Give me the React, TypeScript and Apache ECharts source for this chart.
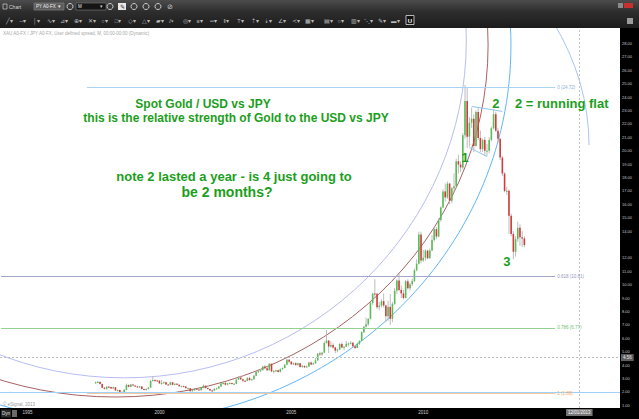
import React, { useEffect, useRef } from 'react';
import * as echarts from 'echarts';

// ---------- axis setup ----------
const AXIS_FIRST_YEAR = 1994;
const AXIS_MONTH_COUNT = 282; // 1994-01 .. 2017-06
const PRICE_TICKS = [1, 2, 3, 4, 5, 6, 7, 8, 9, 10, 11, 12, 14, 15, 16, 17, 18, 19, 20, 21, 22, 23, 24, 25, 26, 27, 28];
const YEAR_LABELS = ['1995', '2000', '2005', '2010'];
const PRICE_MIN = 0.8;
const PRICE_MAX = 29.15;

// ---------- monthly candles: [open, close, low, high] ----------
const FIRST_CANDLE_MONTH = '1997-08';
const OHLC: number[][] = [
  // 1997 Aug-Dec
  [2.65, 2.72, 2.6, 2.78], [2.72, 2.74, 2.66, 2.83], [2.74, 2.59, 2.55, 2.8], [2.59, 2.31, 2.28, 2.62], [2.31, 2.23, 2.18, 2.36],
  // 1998
  [2.23, 2.39, 2.16, 2.44], [2.39, 2.36, 2.3, 2.45], [2.36, 2.26, 2.22, 2.4], [2.26, 2.35, 2.22, 2.4], [2.35, 2.11, 2.09, 2.37], [2.11, 2.14, 2.03, 2.18],
  [2.14, 2.0, 1.98, 2.17], [2.0, 1.94, 1.9, 2.05], [1.94, 2.16, 1.92, 2.22], [2.16, 2.52, 2.12, 2.62], [2.52, 2.39, 2.34, 2.56], [2.39, 2.55, 2.35, 2.6],
  // 1999
  [2.55, 2.47, 2.42, 2.6], [2.47, 2.41, 2.36, 2.52], [2.41, 2.35, 2.32, 2.46], [2.35, 2.4, 2.31, 2.45], [2.4, 2.21, 2.18, 2.42], [2.21, 2.16, 2.12, 2.25],
  [2.16, 2.22, 2.1, 2.27], [2.22, 2.32, 2.19, 2.36], [2.32, 2.82, 2.3, 2.9], [2.82, 2.88, 2.78, 3.18], [2.88, 2.86, 2.76, 2.94], [2.86, 2.84, 2.78, 2.9],
  // 2000
  [2.84, 2.64, 2.6, 2.88], [2.64, 2.66, 2.55, 2.9], [2.66, 2.73, 2.62, 2.78], [2.73, 2.55, 2.52, 2.76], [2.55, 2.52, 2.47, 2.58], [2.52, 2.72, 2.5, 2.76],
  [2.72, 2.53, 2.5, 2.74], [2.53, 2.61, 2.49, 2.64], [2.61, 2.53, 2.5, 2.66], [2.53, 2.42, 2.4, 2.56], [2.42, 2.43, 2.38, 2.47], [2.43, 2.4, 2.36, 2.47],
  // 2001
  [2.4, 2.28, 2.25, 2.44], [2.28, 2.28, 2.22, 2.33], [2.28, 2.05, 2.03, 2.3], [2.05, 2.12, 2.02, 2.16], [2.12, 2.24, 2.09, 2.3], [2.24, 2.18, 2.14, 2.27],
  [2.18, 2.13, 2.1, 2.21], [2.13, 2.29, 2.11, 2.32], [2.29, 2.46, 2.27, 2.56], [2.46, 2.29, 2.26, 2.48], [2.29, 2.22, 2.19, 2.33], [2.22, 2.11, 2.08, 2.24],
  // 2002
  [2.11, 2.1, 2.06, 2.16], [2.1, 2.23, 2.08, 2.29], [2.23, 2.26, 2.19, 2.32], [2.26, 2.41, 2.23, 2.44], [2.41, 2.63, 2.39, 2.66], [2.63, 2.67, 2.55, 2.78],
  [2.67, 2.54, 2.48, 2.72], [2.54, 2.64, 2.5, 2.67], [2.64, 2.66, 2.6, 2.73], [2.66, 2.59, 2.55, 2.7], [2.59, 2.6, 2.54, 2.64], [2.6, 2.92, 2.58, 2.95],
  // 2003
  [2.92, 3.07, 2.88, 3.18], [3.07, 2.94, 2.9, 3.2], [2.94, 2.83, 2.73, 2.98], [2.83, 2.82, 2.75, 2.88], [2.82, 3.03, 2.8, 3.1], [3.03, 2.88, 2.85, 3.14],
  [2.88, 2.95, 2.84, 3.0], [2.95, 3.21, 2.92, 3.26], [3.21, 3.5, 3.18, 3.56], [3.5, 3.54, 3.42, 3.66], [3.54, 3.62, 3.48, 3.67], [3.62, 3.9, 3.6, 3.93],
  // 2004
  [3.9, 3.76, 3.68, 4.02], [3.76, 3.62, 3.56, 3.9], [3.62, 4.1, 3.6, 4.15], [4.1, 3.53, 3.48, 4.12], [3.53, 3.57, 3.38, 3.62], [3.57, 3.62, 3.48, 3.66],
  [3.62, 3.49, 3.45, 3.66], [3.49, 3.7, 3.46, 3.76], [3.7, 3.78, 3.64, 3.83], [3.78, 4.02, 3.76, 4.08], [4.02, 4.4, 4.0, 4.46], [4.4, 4.25, 4.14, 4.45],
  // 2005
  [4.25, 4.06, 4.02, 4.3], [4.06, 4.14, 4.01, 4.2], [4.14, 4.0, 3.96, 4.22], [4.0, 4.14, 3.96, 4.18], [4.14, 3.86, 3.82, 4.16], [3.86, 3.94, 3.8, 4.0],
  [3.94, 3.84, 3.78, 3.97], [3.84, 3.9, 3.8, 3.97], [3.9, 4.19, 3.88, 4.24], [4.19, 4.05, 4.0, 4.26], [4.05, 4.13, 4.02, 4.2], [4.13, 4.35, 4.1, 4.52],
  // 2006
  [4.35, 4.86, 4.32, 4.9], [4.86, 4.79, 4.68, 5.0], [4.79, 4.93, 4.7, 4.98], [4.93, 5.65, 4.9, 5.78], [5.65, 5.83, 5.6, 6.62], [5.83, 5.38, 4.9, 5.86],
  [5.38, 5.5, 5.3, 5.78], [5.5, 5.32, 5.22, 5.62], [5.32, 5.08, 4.9, 5.36], [5.08, 5.16, 4.95, 5.22], [5.16, 5.57, 5.12, 5.64], [5.57, 5.31, 5.26, 5.7],
  // 2007
  [5.31, 5.37, 5.1, 5.42], [5.37, 5.59, 5.34, 5.8], [5.59, 5.61, 5.4, 5.7], [5.61, 5.66, 5.55, 5.8], [5.66, 5.4, 5.34, 5.72], [5.4, 5.28, 5.2, 5.46],
  [5.28, 5.59, 5.26, 5.68], [5.59, 5.8, 5.5, 5.86], [5.8, 6.46, 5.78, 6.52], [6.46, 6.86, 6.4, 6.92], [6.86, 7.05, 6.8, 7.55], [7.05, 7.45, 6.92, 7.5],
  // 2008
  [7.45, 8.63, 7.4, 8.72], [8.63, 9.34, 8.5, 9.4], [9.34, 9.33, 9.1, 10.4], [9.33, 8.32, 8.2, 9.4], [8.32, 8.44, 8.1, 8.7], [8.44, 8.77, 8.3, 8.9],
  [8.77, 8.45, 8.3, 9.35], [8.45, 7.64, 7.2, 8.5], [7.64, 8.34, 7.3, 8.8], [8.34, 7.45, 7.0, 9.3], [7.45, 8.57, 7.2, 8.7], [8.57, 9.55, 8.5, 9.75],
  // 2009
  [9.55, 10.31, 9.3, 10.4], [10.31, 9.61, 9.5, 10.8], [9.61, 9.35, 9.0, 9.95], [9.35, 9.01, 8.9, 9.6], [9.01, 10.26, 8.98, 10.35], [10.26, 9.73, 9.65, 10.4],
  [9.73, 10.04, 9.55, 10.15], [10.04, 10.27, 9.9, 10.45], [10.27, 11.07, 10.2, 11.2], [11.07, 11.56, 11.0, 11.9], [11.56, 13.74, 11.5, 13.95], [13.74, 11.8, 11.6, 13.95],
  // 2010
  [11.8, 12.01, 11.7, 12.6], [12.01, 12.54, 11.8, 12.65], [12.54, 11.97, 11.9, 12.6], [11.97, 12.55, 11.95, 12.7], [12.55, 13.33, 12.5, 13.7], [13.33, 14.14, 13.2, 14.3],
  [14.14, 13.59, 13.4, 14.3], [13.59, 14.83, 13.55, 14.95], [14.83, 15.75, 14.7, 15.85], [15.75, 16.96, 15.7, 17.1], [16.96, 16.51, 16.2, 17.55], [16.51, 17.54, 16.4, 17.7],
  // 2011
  [17.54, 16.26, 16.0, 17.6], [16.26, 17.2, 16.1, 17.3], [17.2, 17.34, 16.9, 18.3], [17.34, 19.21, 17.3, 19.4], [19.21, 18.96, 18.3, 19.7], [18.96, 18.75, 18.4, 19.2],
  [18.75, 21.14, 18.6, 21.3], [21.14, 23.71, 20.9, 24.9], [23.71, 21.04, 20.2, 24.72], [21.04, 22.08, 20.3, 22.5], [22.08, 22.38, 21.7, 23.2], [22.38, 20.34, 19.9, 22.7],
  // 2012
  [20.34, 22.89, 20.3, 23.0], [22.89, 20.95, 20.8, 23.2], [20.95, 20.11, 19.9, 21.5], [20.11, 20.8, 19.9, 20.9], [20.8, 19.99, 19.6, 21.0], [19.99, 19.99, 19.6, 20.5],
  [19.99, 20.79, 19.8, 21.0], [20.79, 21.67, 20.7, 21.8], [21.67, 22.72, 21.6, 23.1], [22.72, 21.49, 21.4, 22.9], [21.49, 20.88, 20.6, 21.7], [20.88, 19.48, 19.3, 20.9],
  // 2013 Jan-Nov
  [19.48, 18.29, 18.1, 19.6], [18.29, 16.99, 16.9, 18.4], [16.99, 17.0, 16.7, 17.3], [17.0, 15.14, 13.8, 17.1], [15.14, 13.79, 13.6, 15.3], [13.79, 12.46, 11.9, 14.0],
  [12.46, 13.4, 12.1, 13.6], [13.4, 14.24, 13.2, 14.7], [14.24, 13.54, 12.9, 14.5], [13.54, 13.45, 12.8, 14.0], [13.45, 12.96, 12.8, 13.6],
];

// ---------- Fibonacci retracement levels ----------
const FIB_RATIOS = ['0', '0.618', '0.786', '1'];
const FIB_VALUES = [24.72, 10.61, 6.77, 1.88];
const FIB_STARTS = ['1997-04', '1994-01', '1994-01', '1997-04'];
const FIB_END = '2015-01';
const FIB_COLORS = ['#a9d3f3', '#a3a6c9', '#93d293', '#f7c9a0'];
const FIB_LABEL_COLORS = ['#86aedb', '#9496bd', '#72c272', '#f2a462'];
const BASE_LINE_VALUE = 1.95;

// ---------- crosshair / price markers ----------
const CROSSHAIR_VALUE = 4.56;
const CROSSHAIR_MONTH = '2015-12';
const CROSSHAIR_DATE_LABEL = '12/01/2013';
const LAST_PRICE = 12.96;

// ---------- wedge (running flat) ----------
const WEDGE_UPPER = [['2011-11', 23.3], ['2013-01', 22.93]];
const WEDGE_LOWER = [['2011-10', 20.23], ['2012-06', 19.56]];

// ---------- arcs (ellipses: centre month/value, radii in months / price units) ----------
const ARC_CENTER_MONTHS = ['1998-09', '1998-05', '1998-06'];
const ARC_CENTER_VALUES = [28.25, 27.87, 27.87];
const ARC_RADII_MONTHS = [155.6, 169.5, 178.9];
const ARC_RADII_VALUES = [25.2, 26.25, 28.12];
const ARC_COLORS = ['#b7bdf2', '#a86262', '#62b6f6'];
// upper-right quarter arc near the right edge
const UPPER_ARC_CENTER_MONTH = '1998-06';
const UPPER_ARC_CENTER_VALUE = 20.42;
const UPPER_ARC_RADIUS_MONTHS = 214.4;
const UPPER_ARC_RADIUS_VALUE = 24.0;

// ---------- wave labels ----------
const WAVE_LABELS = ['1', '2', '3'];
const WAVE_MONTHS = ['2011-08', '2012-10', '2013-03'];
const WAVE_VALUES = [19.52, 23.55, 11.76];

const GREEN = '#1c9e1c';
const FONT = '"Liberation Sans", Arial, sans-serif';

const TOOL_GLYPHS = ['╱', '─', '│', '∿', '⊿', '⊕', '✕', '○', '□', '◇', '△', '▰', '⫽', '◎', '≡', '═', '‖', 'T', '⇡', '⇣', '∠', '≺', '▦'];
const TOOL_GLYPHS_RIGHT = ['▤', '○', '▥', '⋱', '✎', '▬'];

function buildMonths(): string[] {
  const out: string[] = [];
  for (let i = 0; i < AXIS_MONTH_COUNT; i++) {
    const y = AXIS_FIRST_YEAR + Math.floor(i / 12);
    const m = (i % 12) + 1;
    out.push(`${y}-${m < 10 ? '0' + m : m}`);
  }
  return out;
}

export default function App() {
  const ref = useRef<HTMLDivElement>(null);

  useEffect(() => {
    if (!ref.current) return;
    const chart = echarts.init(ref.current, null, { renderer: 'svg' });
    const months = buildMonths();
    const firstIdx = months.indexOf(FIRST_CANDLE_MONTH);
    const candleData = OHLC.map((r, i) => [firstIdx + i, r[0], r[1], r[2], r[3]]);

    const renderCandle = (params: any, api: any) => {
      const x = api.value(0);
      const o = api.value(1);
      const c = api.value(2);
      const l = api.value(3);
      const h = api.value(4);
      const pHigh = api.coord([x, h]);
      const pLow = api.coord([x, l]);
      const pOpen = api.coord([x, o]);
      const pClose = api.coord([x, c]);
      const band = api.size([1, 0])[0];
      const bw = Math.max(1, band * 0.72);
      const top = Math.min(pOpen[1], pClose[1]);
      const height = Math.max(1, Math.abs(pOpen[1] - pClose[1]));
      const up = c >= o;
      return {
        type: 'group',
        children: [
          { type: 'line', shape: { x1: pHigh[0], y1: pHigh[1], x2: pLow[0], y2: pLow[1] }, style: { stroke: '#b4b4b4', lineWidth: 0.9 } },
          { type: 'rect', shape: { x: pOpen[0] - bw / 2, y: top, width: bw, height }, style: { fill: up ? '#58bd58' : '#d33b3b' } },
        ],
      };
    };

    const renderArcs = (params: any, api: any) => {
      const band = api.size([1, 0])[0];
      const children: any[] = ARC_RADII_MONTHS.map((r, i) => {
        const idx = months.indexOf(ARC_CENTER_MONTHS[i]);
        const c = api.coord([idx, ARC_CENTER_VALUES[i]]);
        const bottom = api.coord([idx, ARC_CENTER_VALUES[i] - ARC_RADII_VALUES[i]]);
        return {
          type: 'ellipse',
          shape: { cx: c[0], cy: c[1], rx: r * band, ry: Math.abs(bottom[1] - c[1]) },
          style: { fill: 'none', stroke: ARC_COLORS[i], lineWidth: 1 },
        };
      });
      const uIdx = months.indexOf(UPPER_ARC_CENTER_MONTH);
      const uc = api.coord([uIdx, UPPER_ARC_CENTER_VALUE]);
      const utop = api.coord([uIdx, UPPER_ARC_CENTER_VALUE + UPPER_ARC_RADIUS_VALUE]);
      const rx = UPPER_ARC_RADIUS_MONTHS * band;
      const ry = Math.abs(uc[1] - utop[1]);
      children.push({
        type: 'path',
        shape: { pathData: `M ${uc[0] + rx} ${uc[1]} A ${rx} ${ry} 0 0 0 ${uc[0]} ${uc[1] - ry}` },
        style: { fill: 'none', stroke: '#a8c6f2', lineWidth: 1 },
      });
      return { type: 'group', children };
    };

    const smallBox = (bg: string, color = '#ffffff') => ({
      backgroundColor: bg,
      color,
      fontSize: 4.5,
      fontFamily: FONT,
      padding: [1, 2, 1, 2],
    });

    const markLines: any[] = [];
    FIB_VALUES.forEach((v, i) => {
      markLines.push([
        {
          coord: [FIB_STARTS[i], v],
          lineStyle: { color: FIB_COLORS[i], width: 1, type: 'solid' },
          label: {
            show: true,
            position: 'end',
            distance: 2,
            formatter: `${FIB_RATIOS[i]} (${v.toFixed(2)})`,
            color: FIB_LABEL_COLORS[i],
            fontSize: 4.5,
            fontFamily: FONT,
          },
        },
        { coord: [FIB_END, v] },
      ]);
    });
    markLines.push({ yAxis: BASE_LINE_VALUE, lineStyle: { color: '#9fd0f5', width: 1, type: 'solid' }, label: { show: false } });
    [WEDGE_UPPER, WEDGE_LOWER].forEach((seg) => {
      markLines.push([
        { coord: seg[0], lineStyle: { color: '#8fc4f0', width: 1, type: 'solid' }, label: { show: false } },
        { coord: seg[1] },
      ]);
    });
    markLines.push({
      yAxis: CROSSHAIR_VALUE,
      lineStyle: { color: '#bdbdbd', width: 1, type: [2, 2] },
      label: { show: true, position: 'end', distance: 1, formatter: CROSSHAIR_VALUE.toFixed(2), ...smallBox('#5e5e5e', '#e8e8e8') },
    });
    markLines.push({
      xAxis: CROSSHAIR_MONTH,
      lineStyle: { color: '#c4c4c4', width: 1, type: [2, 2] },
      label: { show: true, position: 'start', distance: 1, formatter: CROSSHAIR_DATE_LABEL, ...smallBox('#777777', '#ffffff') },
    });
    markLines.push({
      yAxis: LAST_PRICE,
      lineStyle: { opacity: 0 },
      label: { show: true, position: 'end', distance: 1, formatter: LAST_PRICE.toFixed(2), ...smallBox('#ee1111', '#ffffff') },
    });

    const toolbarGraphics: any[] = [
      {
        type: 'rect', shape: { x: 0, y: 0, width: 639, height: 13 },
        style: { fill: new echarts.graphic.LinearGradient(0, 0, 0, 1, [{ offset: 0, color: '#4c4c4c' }, { offset: 1, color: '#2a2a2a' }]) },
      },
      {
        type: 'rect', shape: { x: 0, y: 13, width: 639, height: 15 },
        style: { fill: new echarts.graphic.LinearGradient(0, 0, 0, 1, [{ offset: 0, color: '#2c2c2c' }, { offset: 1, color: '#1c1c1c' }]) },
      },
      { type: 'rect', shape: { x: 3, y: 4, width: 4, height: 5 }, style: { fill: 'none', stroke: '#bbbbbb', lineWidth: 0.8 } },
      { type: 'text', x: 9, y: 6.5, style: { text: 'Chart', fill: '#d8d8d8', font: `5px ${FONT}`, textVerticalAlign: 'middle' } },
      { type: 'rect', shape: { x: 34, y: 3, width: 30, height: 7 }, style: { fill: '#5c5c5c', stroke: '#8a8a8a', lineWidth: 0.6 } },
      { type: 'text', x: 36, y: 6.5, style: { text: 'PY A0-FX  ▾', fill: '#f0f0f0', font: `4.5px ${FONT}`, textVerticalAlign: 'middle' } },
      { type: 'circle', shape: { cx: 70, cy: 6.5, r: 3 }, style: { fill: 'none', stroke: '#cccccc', lineWidth: 1 } },
      { type: 'rect', shape: { x: 76, y: 3, width: 30, height: 7 }, style: { fill: '#151515', stroke: '#7a7a7a', lineWidth: 0.6 } },
      { type: 'text', x: 78, y: 6.5, style: { text: 'M', fill: '#f0f0f0', font: `4.5px ${FONT}`, textVerticalAlign: 'middle' } },
      { type: 'text', x: 100, y: 6.5, style: { text: '▾', fill: '#cccccc', font: `4.5px ${FONT}`, textVerticalAlign: 'middle' } },
      { type: 'circle', shape: { cx: 110, cy: 6.5, r: 3 }, style: { fill: 'none', stroke: '#cccccc', lineWidth: 1 } },
      { type: 'rect', shape: { x: 118, y: 3, width: 8, height: 7 }, style: { fill: '#e8e8e8' } },
      { type: 'text', x: 122, y: 6.5, style: { text: '✎', fill: '#333333', font: `6px ${FONT}`, textAlign: 'center', textVerticalAlign: 'middle' } },
      { type: 'circle', shape: { cx: 134, cy: 6.5, r: 3 }, style: { fill: 'none', stroke: '#cccccc', lineWidth: 1 } },
      { type: 'circle', shape: { cx: 146, cy: 6.5, r: 3 }, style: { fill: 'none', stroke: '#cccccc', lineWidth: 1 } },
      { type: 'circle', shape: { cx: 158, cy: 6.5, r: 3 }, style: { fill: 'none', stroke: '#cccccc', lineWidth: 1 } },
      { type: 'text', x: 170, y: 6.5, style: { text: '⊘', fill: '#cccccc', font: `7px ${FONT}`, textAlign: 'center', textVerticalAlign: 'middle' } },
      { type: 'rect', shape: { x: 618, y: 3, width: 5, height: 5 }, style: { fill: '#8a8a8a' } },
      { type: 'rect', shape: { x: 624, y: 3, width: 9, height: 5 }, style: { fill: '#c83030' } },
      { type: 'rect', shape: { x: 627, y: 18, width: 6, height: 6 }, style: { fill: '#9a9a9a' } },
      { type: 'rect', shape: { x: 406, y: 15.5, width: 8, height: 9 }, style: { fill: '#101010', stroke: '#e0e0e0', lineWidth: 0.8 } },
      { type: 'text', x: 410, y: 20.5, style: { text: 'U', fill: '#ffffff', font: `bold 6px ${FONT}`, textAlign: 'center', textVerticalAlign: 'middle' } },
    ];
    TOOL_GLYPHS.forEach((g, i) => {
      toolbarGraphics.push({
        type: 'text', x: 6 + i * 13.6, y: 20.5,
        style: { text: g + '▾', fill: '#bdbdbd', font: `5.5px ${FONT}`, textVerticalAlign: 'middle' },
      });
    });
    TOOL_GLYPHS_RIGHT.forEach((g, i) => {
      toolbarGraphics.push({
        type: 'text', x: 324 + i * 13.4, y: 20.5,
        style: { text: g + '▾', fill: '#bdbdbd', font: `5.5px ${FONT}`, textVerticalAlign: 'middle' },
      });
    });

    const annotationText = (text: string, x: number, y: number, size: number, align = 'center') => ({
      type: 'text', x, y, z: 100,
      style: { text, fill: GREEN, font: `bold ${size}px ${FONT}`, textAlign: align, textVerticalAlign: 'middle' },
    });

    const option: any = {
      animation: false,
      backgroundColor: '#000000',
      grid: { left: 0, right: 19, top: 28, bottom: 11, show: true, backgroundColor: '#ffffff', borderWidth: 0 },
      xAxis: {
        type: 'category',
        data: months,
        boundaryGap: true,
        axisLine: { show: false },
        axisTick: { show: false },
        splitLine: { show: false },
        axisLabel: {
          interval: (i: number, v: string) => YEAR_LABELS.indexOf(v.slice(0, 4)) >= 0 && v.endsWith('-01'),
          formatter: (v: string) => v.slice(0, 4),
          color: '#d0d0d0',
          fontSize: 4.5,
          fontFamily: FONT,
          margin: 2,
        },
      },
      yAxis: {
        type: 'value',
        position: 'right',
        min: PRICE_MIN,
        max: PRICE_MAX,
        splitLine: { show: false },
        axisLine: { show: false },
        axisTick: { show: false },
        axisLabel: {
          customValues: PRICE_TICKS,
          formatter: (v: number) => v.toFixed(2),
          color: '#c8c8c8',
          fontSize: 4,
          fontFamily: FONT,
          margin: 2,
        },
      },
      graphic: [
        ...toolbarGraphics,
        { type: 'text', x: 3, y: 33.5, style: { text: 'XAU A0-FX / JPY A0-FX, User defined spread, M, 00:00-00:00 (Dynamic)', fill: '#a8a8a8', font: `4.5px ${FONT}`, textVerticalAlign: 'middle' } },
        { type: 'text', x: 3, y: 404.5, style: { text: '© eSignal, 2013', fill: '#9a9a9a', font: `4.5px ${FONT}`, textVerticalAlign: 'middle' } },
        { type: 'rect', shape: { x: 1, y: 409.5, width: 10, height: 8 }, style: { fill: '#2a2a2a' } },
        { type: 'text', x: 2, y: 413.5, style: { text: 'Dyn', fill: '#e0e0e0', font: `4.5px ${FONT}`, textVerticalAlign: 'middle' } },
        { type: 'rect', shape: { x: 12, y: 410, width: 5, height: 7 }, style: { fill: '#6a6a6a' } },
        annotationText('Spot Gold / USD vs JPY', 203, 104, 12),
        annotationText('this is the relative strength of Gold to the USD vs JPY', 236, 118, 12),
        annotationText('note 2 lasted a year - is 4 just going to', 234, 176, 13),
        annotationText('be 2 months?', 227, 192, 14),
        annotationText('2 = running flat', 515, 103, 13, 'left'),
      ],
      series: [
        {
          type: 'custom',
          name: 'arcs',
          renderItem: renderArcs,
          data: [[0, 0]],
          clip: true,
          silent: true,
          z: 1,
        },
        {
          type: 'line',
          name: 'levels',
          data: [],
          z: 2,
          silent: true,
          markLine: {
            silent: true,
            symbol: ['none', 'none'],
            animation: false,
            data: markLines,
          },
          markPoint: {
            silent: true,
            animation: false,
            symbol: 'rect',
            symbolSize: [1, 1],
            itemStyle: { color: 'rgba(255,255,255,0)' },
            label: { show: true, position: 'inside', formatter: '{b}', color: GREEN, fontSize: 13, fontWeight: 'bold', fontFamily: FONT },
            data: WAVE_LABELS.map((t, i) => ({ name: t, coord: [WAVE_MONTHS[i], WAVE_VALUES[i]] })),
          },
        },
        {
          type: 'custom',
          name: 'XAU/JPY',
          renderItem: renderCandle,
          data: candleData,
          encode: { x: 0, y: [1, 2, 3, 4] },
          clip: true,
          z: 3,
        },
      ],
    };

    chart.setOption(option);
    return () => chart.dispose();
  }, []);

  return <div ref={ref} style={{ position: 'fixed', left: 0, top: 0, width: 639, height: 419 }} />;
}
